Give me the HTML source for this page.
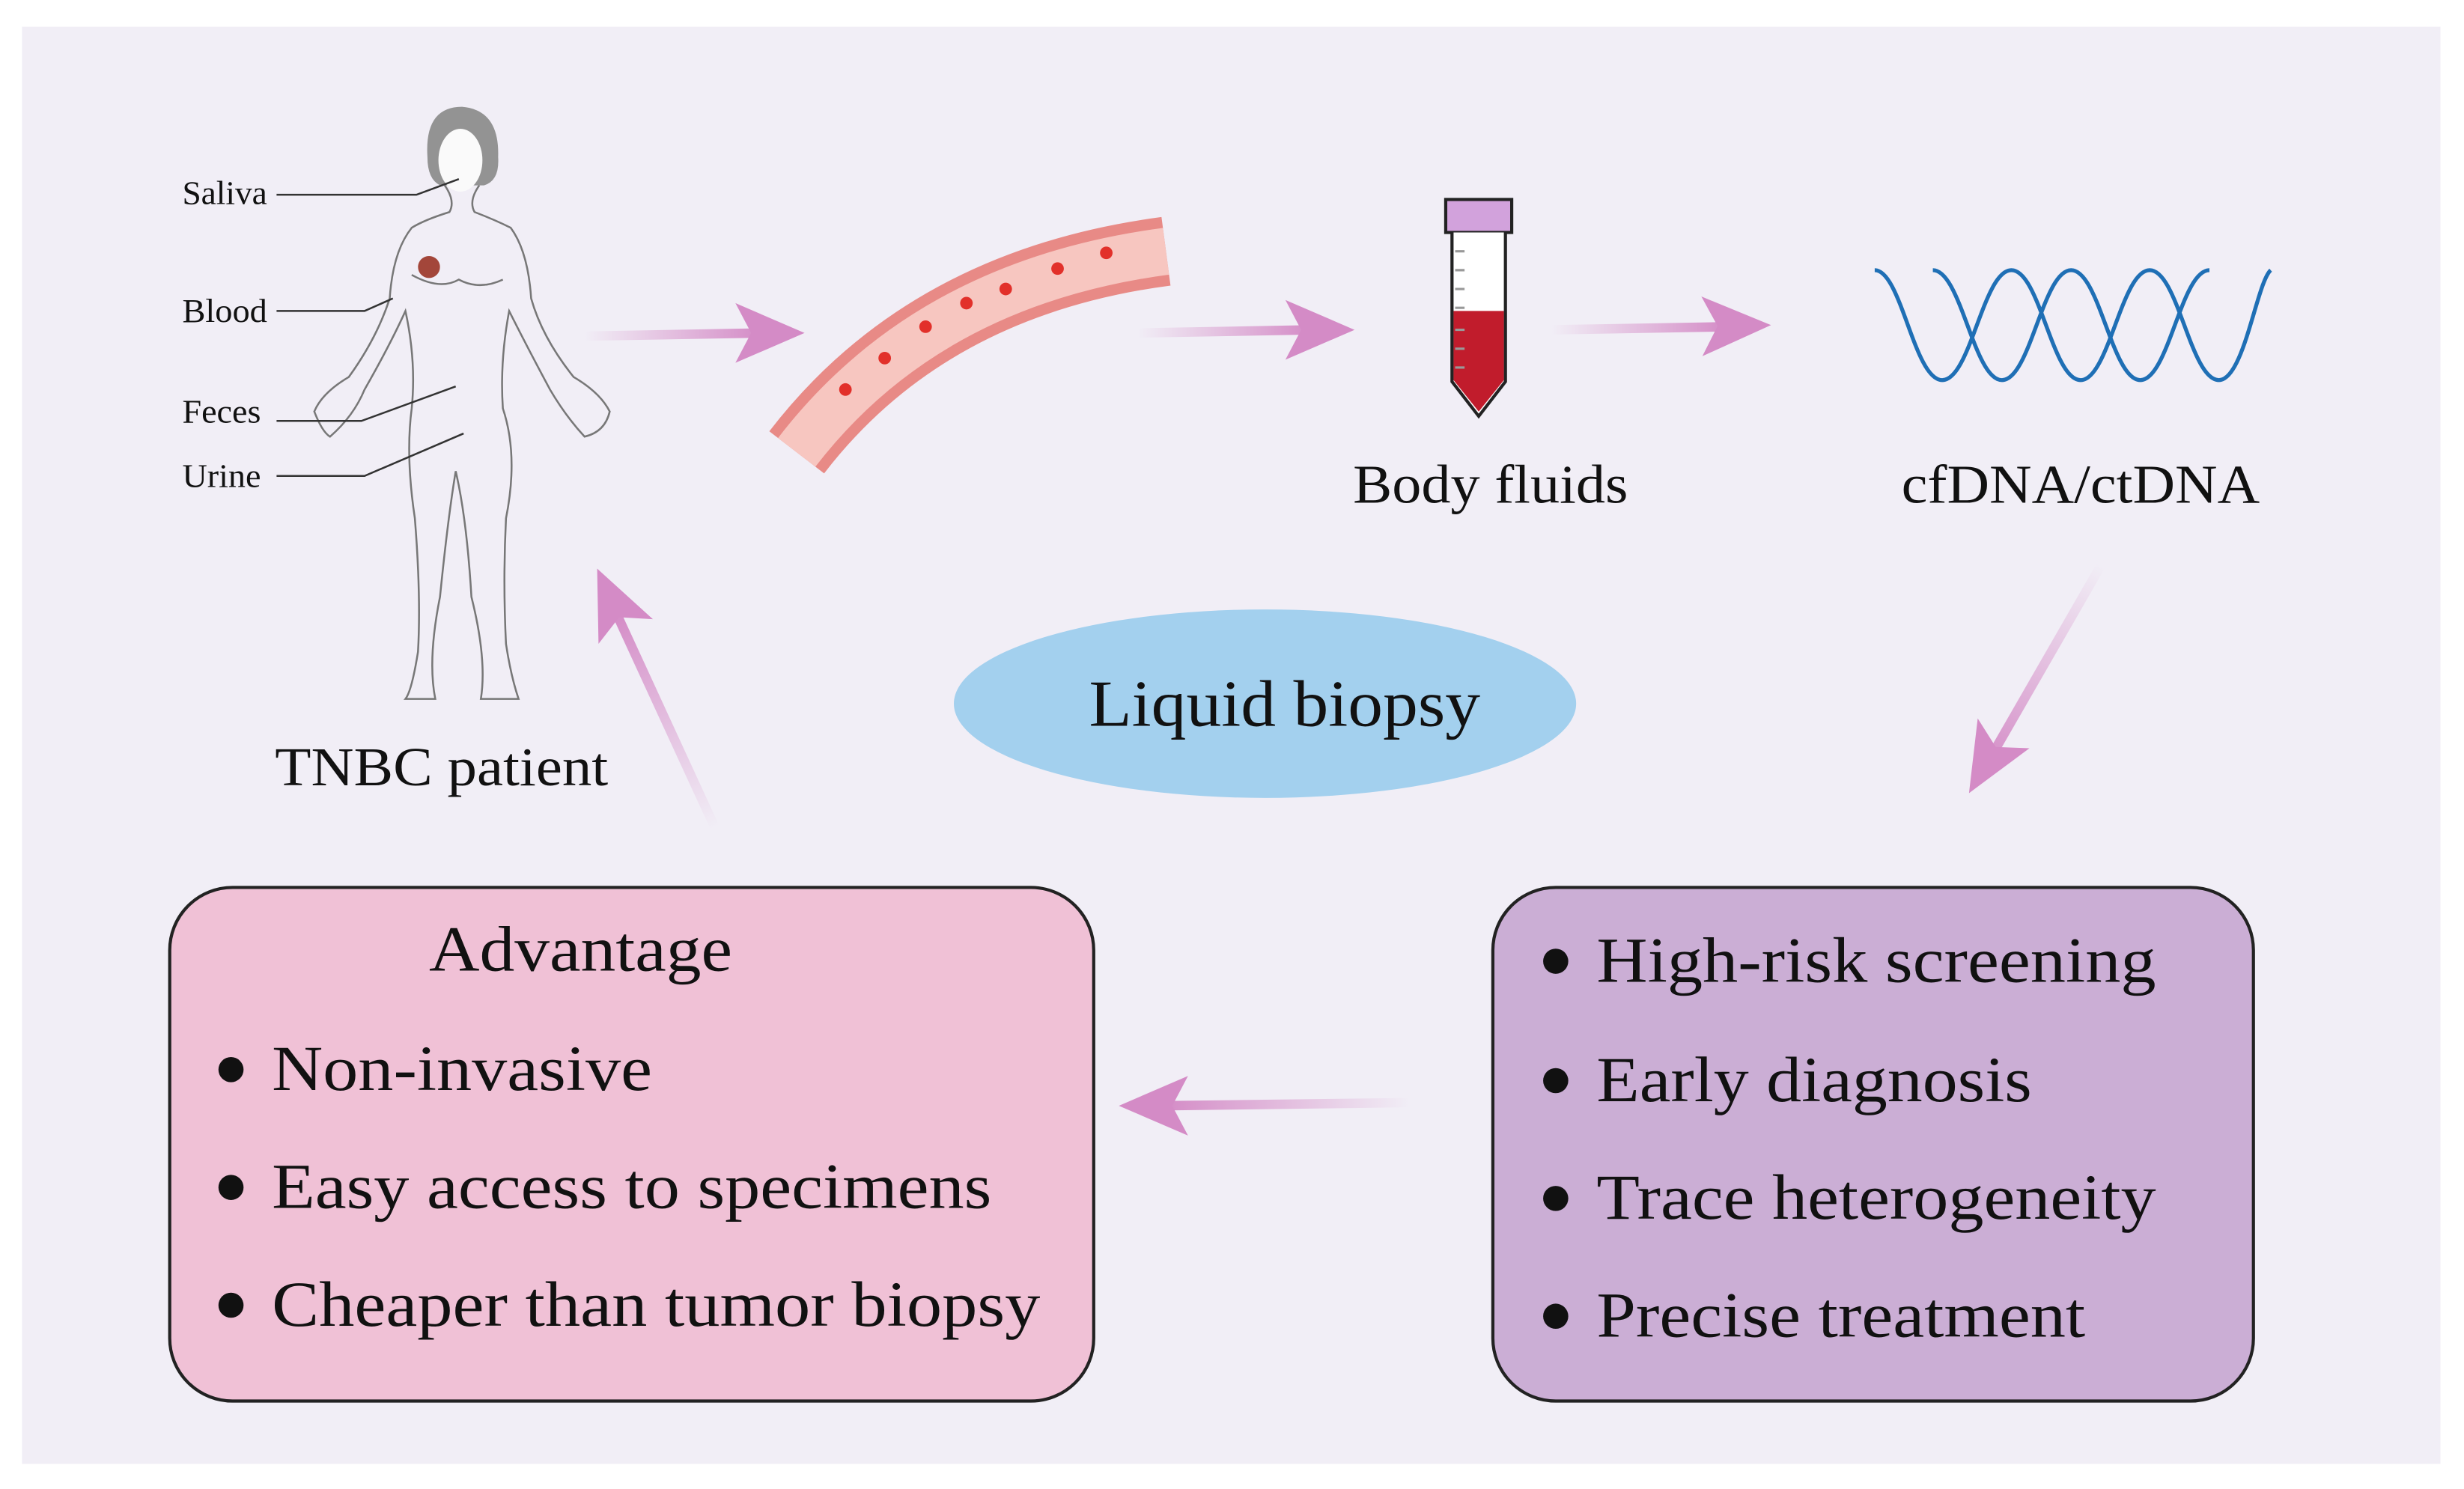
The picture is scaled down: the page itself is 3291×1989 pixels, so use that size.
<!DOCTYPE html>
<html><head><meta charset="utf-8"><style>html,body{margin:0;padding:0;background:#fff}svg{display:block}text{font-family:"Liberation Serif",serif;fill:#111}</style></head>
<body>
<svg width="3291" height="1989" viewBox="0 0 1568 948" preserveAspectRatio="none" xmlns="http://www.w3.org/2000/svg">
<defs>
<linearGradient id="g" x1="0" y1="0" x2="1" y2="0"><stop offset="0" stop-color="#d58ec8" stop-opacity="0"/><stop offset="1" stop-color="#d48bc6"/></linearGradient>
<linearGradient id="g4" gradientUnits="userSpaceOnUse" x1="1337" y1="360" x2="1262" y2="490"><stop offset="0" stop-color="#d58ec8" stop-opacity="0"/><stop offset="1" stop-color="#d48bc6"/></linearGradient>
<linearGradient id="g5" gradientUnits="userSpaceOnUse" x1="897" y1="702" x2="740" y2="704"><stop offset="0" stop-color="#d58ec8" stop-opacity="0"/><stop offset="1" stop-color="#d48bc6"/></linearGradient>
<linearGradient id="g6" gradientUnits="userSpaceOnUse" x1="455" y1="527" x2="392" y2="390"><stop offset="0" stop-color="#d58ec8" stop-opacity="0"/><stop offset="1" stop-color="#d48bc6"/></linearGradient>
<polygon id="hd" points="0,0 -44,-19 -34,0 -44,19" fill="#d48bc6"/>
</defs>
<rect x="0" y="0" width="1568" height="948" fill="#fff"/>
<rect x="14" y="17" width="1539" height="915" fill="#f1eef6"/>

<!-- figure -->
<g fill="none" stroke="#777" stroke-width="1.2">
<path d="M283,118 Q290,128 286,135 Q270,140 262,145 Q250,160 248,190 Q240,215 222,240 Q205,250 200,262 Q205,275 210,278 Q225,265 232,248 Q248,220 258,198 Q265,230 262,260 Q258,290 264,330 Q268,380 266,415 Q262,440 258,445 L277,445 Q272,420 280,380 Q285,330 290,300 Q297,330 300,380 Q310,420 306,445 L330,445 Q325,430 322,410 Q320,370 322,330 Q330,290 320,260 Q318,230 324,198 Q335,220 350,248 Q360,265 372,278 Q385,275 388,262 Q382,250 365,240 Q345,215 338,190 Q336,160 325,145 Q315,140 302,135 Q298,128 305,118"/>
<path d="M262,175 Q280,185 292,178 Q305,185 320,178"/>
</g>
<path d="M272,100 Q270,68 294,68 Q318,70 317,100 Q318,115 308,118 L280,118 Q272,114 272,100z" fill="#939393"/>
<ellipse cx="293" cy="102" rx="14" ry="20" fill="#fafafa"/>
<circle cx="273" cy="170" r="7" fill="#a3463a"/>
<g stroke="#333" stroke-width="1.2" fill="none">
<path d="M176,124 L265,124 L292,114"/><path d="M176,198 L232,198 L250,190"/><path d="M176,268 L230,268 L290,246"/><path d="M176,303 L232,303 L295,276"/>
</g>
<g font-size="21" lengthAdjust="spacingAndGlyphs"><text x="116" y="130" textLength="54" lengthAdjust="spacingAndGlyphs">Saliva</text><text x="116" y="205" textLength="54" lengthAdjust="spacingAndGlyphs">Blood</text><text x="116" y="269" textLength="50" lengthAdjust="spacingAndGlyphs">Feces</text><text x="116" y="310" textLength="50" lengthAdjust="spacingAndGlyphs">Urine</text></g>
<text x="175" y="500" font-size="35" textLength="212" lengthAdjust="spacingAndGlyphs">TNBC patient</text>

<!-- vessel -->
<path d="M507,288 Q590,180 742,160" fill="none" stroke="#e88a86" stroke-width="44"/>
<path d="M507,288 Q590,180 742,160" fill="none" stroke="#f7c6c0" stroke-width="30"/>
<g fill="#e2302a"><circle cx="538" cy="248" r="4"/><circle cx="563" cy="228" r="4"/><circle cx="589" cy="208" r="4"/><circle cx="615" cy="193" r="4"/><circle cx="640" cy="184" r="4"/><circle cx="673" cy="171" r="4"/><circle cx="704" cy="161" r="4"/></g>

<!-- tube -->
<rect x="920" y="127" width="42" height="21" fill="#d2a2dc" stroke="#222" stroke-width="2"/>
<path d="M924,148 L924,243 L941,265 L958,243 L958,148" fill="#fff" stroke="#222" stroke-width="2"/>
<path d="M925,198 L957,198 L957,242 L941,262 L925,242z" fill="#c11c2c"/>
<g stroke="#999" stroke-width="1.5"><path d="M926,160h6M926,172h6M926,184h6M926,196h6M926,210h6M926,222h6M926,234h6"/></g>
<text x="861" y="320" font-size="35" textLength="175" lengthAdjust="spacingAndGlyphs">Body fluids</text>

<!-- DNA -->
<g fill="none" stroke="#1f6fb5" stroke-width="2.5">
<path d="M1193,172 C1210,172 1218,242 1236,242 C1254,242 1262,172 1280,172 C1298,172 1306,242 1324,242 C1342,242 1350,172 1368,172 C1386,172 1394,242 1412,242 C1428,242 1436,180 1445,172"/>
<path d="M1230,172 C1248,172 1256,242 1274,242 C1292,242 1300,172 1318,172 C1336,172 1344,242 1362,242 C1380,242 1388,172 1406,172"/>
</g>
<text x="1210" y="320" font-size="35" textLength="228" lengthAdjust="spacingAndGlyphs">cfDNA/ctDNA</text>

<!-- arrows -->
<g fill="none" stroke-width="6">
<line x1="372" y1="214" x2="485" y2="212" stroke="url(#g)"/>
<line x1="724" y1="212" x2="835" y2="210" stroke="url(#g)"/>
<line x1="987" y1="210" x2="1100" y2="208" stroke="url(#g)"/>
<line x1="1337" y1="360" x2="1268" y2="480" stroke="url(#g4)"/>
<line x1="897" y1="702" x2="740" y2="704" stroke="url(#g5)"/>
<line x1="455" y1="527" x2="392" y2="390" stroke="url(#g6)"/>
</g>
<use href="#hd" transform="translate(512,212)"/>
<use href="#hd" transform="translate(862,210)"/>
<use href="#hd" transform="translate(1127,207) rotate(-1)"/>
<use href="#hd" transform="translate(1253,505) rotate(120)"/>
<use href="#hd" transform="translate(712,704) rotate(180)"/>
<use href="#hd" transform="translate(380,362) rotate(245.6)"/>

<!-- ellipse -->
<ellipse cx="805" cy="448" rx="198" ry="60" fill="#a3d0ee"/>
<text x="693" y="462" font-size="42" textLength="249" lengthAdjust="spacingAndGlyphs">Liquid biopsy</text>

<!-- boxes -->
<rect x="108" y="565" width="588" height="327" rx="40" fill="#f0c1d6" stroke="#222" stroke-width="2"/>
<text x="273" y="618" font-size="41" textLength="193" lengthAdjust="spacingAndGlyphs">Advantage</text>
<g font-size="41"><circle cx="147" cy="681" r="8" fill="#111"/><text x="173" y="694" textLength="242" lengthAdjust="spacingAndGlyphs">Non-invasive</text>
<circle cx="147" cy="756" r="8" fill="#111"/><text x="173" y="769" textLength="458" lengthAdjust="spacingAndGlyphs">Easy access to specimens</text>
<circle cx="147" cy="831" r="8" fill="#111"/><text x="173" y="844" textLength="489" lengthAdjust="spacingAndGlyphs">Cheaper than tumor biopsy</text></g>

<rect x="950" y="565" width="484" height="327" rx="40" fill="#cbaed5" stroke="#222" stroke-width="2"/>
<g font-size="41"><circle cx="990" cy="612" r="8" fill="#111"/><text x="1016" y="625" textLength="356" lengthAdjust="spacingAndGlyphs">High-risk screening</text>
<circle cx="990" cy="688" r="8" fill="#111"/><text x="1016" y="701" textLength="277" lengthAdjust="spacingAndGlyphs">Early diagnosis</text>
<circle cx="990" cy="763" r="8" fill="#111"/><text x="1016" y="776" textLength="356" lengthAdjust="spacingAndGlyphs">Trace heterogeneity</text>
<circle cx="990" cy="838" r="8" fill="#111"/><text x="1016" y="851" textLength="311" lengthAdjust="spacingAndGlyphs">Precise treatment</text></g>
</svg>
</body></html>
